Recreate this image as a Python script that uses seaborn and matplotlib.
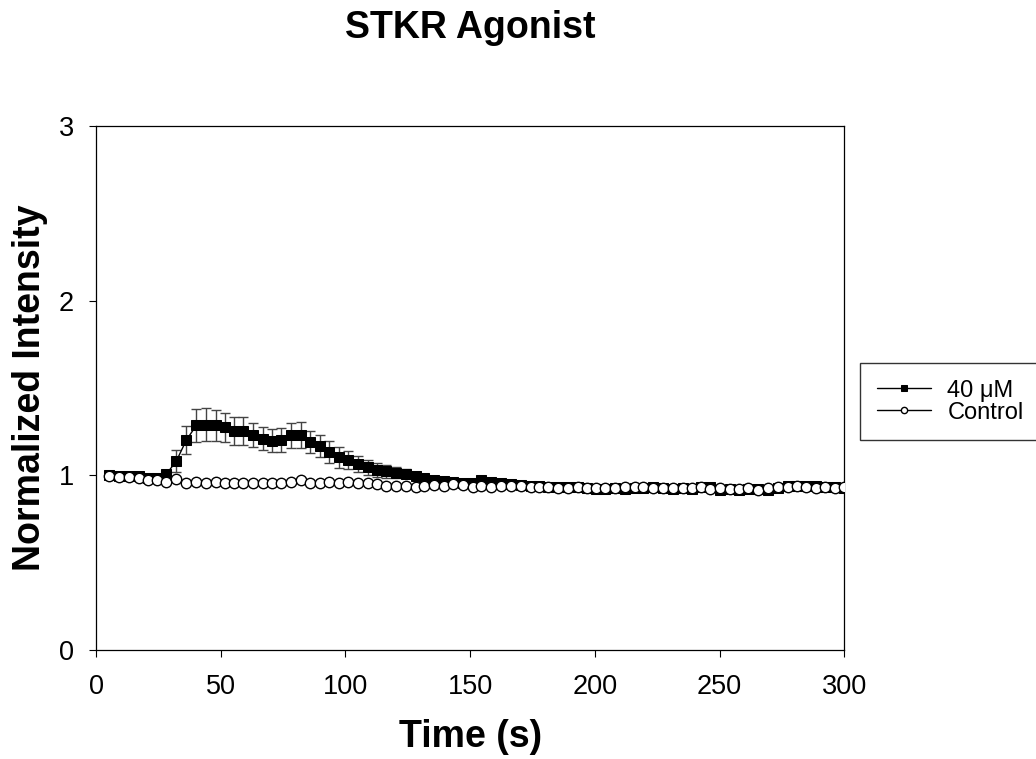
import numpy as np
import pandas as pd
import matplotlib
matplotlib.use('Agg')
import matplotlib.pyplot as plt
import seaborn as sns

# Time points (s)
time_s = [5.1, 9.1, 13.1, 17.1, 20.9, 24.3, 28.2, 32.2, 36.2, 40.2, 44.2, 48.1, 51.7, 55.4,
          59.1, 63.1, 66.8, 70.6, 74.3, 78.3, 82.1, 85.9, 89.8, 93.5, 97.3, 101.2, 104.9,
          108.9, 112.5, 116.3, 120.3, 124.3, 128.3, 131.5, 135.5, 139.5, 143.3, 147.3,
          151.3, 154.3, 158.3, 162.3, 166.3, 170.3, 174.3, 177.7, 181.4, 185.4, 189.4,
          193.4, 196.7, 200.5, 204.1, 208.1, 212.1, 216.1, 219.4, 223.2, 227.2, 231.2,
          235.2, 238.8, 242.5, 246.2, 250.2, 254.2, 257.9, 261.5, 265.5, 269.5, 273.5,
          277.5, 281.1, 284.6, 288.6, 292.2, 296.2, 300.0]

# 40 uM agonist, normalized intensity
agonist = [1.0, 0.995, 0.995, 0.995, 0.985, 0.985, 1.008, 1.082, 1.202, 1.286, 1.29, 1.286,
           1.275, 1.254, 1.254, 1.231, 1.21, 1.199, 1.202, 1.229, 1.233, 1.191, 1.17, 1.134,
           1.105, 1.086, 1.065, 1.048, 1.031, 1.023, 1.016, 1.01, 0.997, 0.983, 0.974, 0.968,
           0.96, 0.957, 0.955, 0.972, 0.964, 0.956, 0.952, 0.945, 0.94, 0.94,
           0.935, 0.935, 0.932, 0.935, 0.93, 0.925, 0.925, 0.928, 0.925, 0.93, 0.928, 0.935,
           0.928, 0.925, 0.928, 0.925, 0.935, 0.932, 0.918, 0.922, 0.918, 0.92, 0.922, 0.915,
           0.93, 0.94, 0.938, 0.942, 0.94, 0.935, 0.935, 0.93]

agonist_err = [0.01, 0.01, 0.01, 0.01, 0.01, 0.01, 0.015, 0.062, 0.081, 0.092, 0.093, 0.088,
               0.081, 0.078, 0.078, 0.067, 0.065, 0.066, 0.067, 0.073, 0.074, 0.062, 0.062,
               0.063, 0.06, 0.051, 0.048, 0.043, 0.04, 0.035, 0.03, 0.025, 0.02, 0.015] + [0.01] * 44

# Control, normalized intensity
control = [0.995, 0.99, 0.993, 0.985, 0.975, 0.975, 0.965, 0.978, 0.955, 0.965, 0.958, 0.96,
           0.958, 0.958, 0.955, 0.958, 0.955, 0.958, 0.955, 0.96, 0.972, 0.955, 0.958, 0.96,
           0.957, 0.96, 0.955, 0.957, 0.95, 0.942, 0.942, 0.942, 0.932, 0.94, 0.945, 0.94,
           0.95, 0.945, 0.932, 0.938, 0.936, 0.94, 0.938, 0.94, 0.932, 0.932, 0.932, 0.928,
           0.928, 0.936, 0.928, 0.93, 0.93, 0.93, 0.935, 0.935, 0.935, 0.93, 0.93, 0.926,
           0.926, 0.93, 0.935, 0.922, 0.926, 0.922, 0.922, 0.926, 0.917, 0.93, 0.935, 0.935,
           0.939, 0.935, 0.93, 0.935, 0.93, 0.935]

df = pd.DataFrame({'time': time_s, 'agonist': agonist, 'err': agonist_err, 'control': control})

sns.set_style('ticks')
plt.rcParams['font.family'] = ['Liberation Sans', 'DejaVu Sans']
plt.rcParams['text.color'] = 'black'
plt.rcParams['axes.labelcolor'] = 'black'
plt.rcParams['xtick.color'] = 'black'
plt.rcParams['ytick.color'] = 'black'

fig = plt.figure(figsize=(10.36, 7.59), dpi=100)
ax = fig.add_axes([0.0927, 0.1432, 0.7222, 0.6912])

# error bars behind the agonist markers
ax.errorbar(df['time'], df['agonist'], yerr=df['err'], fmt='none', ecolor='#444444',
            elinewidth=1.0, capsize=3.5, capthick=1.0, zorder=2)

sns.lineplot(data=df, x='time', y='agonist', ax=ax, color='black', linewidth=1.0,
             marker='s', markersize=6.5, markeredgecolor='black', markerfacecolor='black',
             label='40 \u03bcM', zorder=3)
sns.lineplot(data=df, x='time', y='control', ax=ax, color='black', linewidth=1.0,
             marker='o', markersize=7.5, markeredgecolor='black', markerfacecolor='white',
             markeredgewidth=1.0, label='Control', zorder=4)

ax.set_xlim(0, 300)
ax.set_ylim(0, 3)
ax.set_xticks([0, 50, 100, 150, 200, 250, 300])
ax.set_yticks([0, 1, 2, 3])
ax.tick_params(direction='out', length=5, width=0.8, labelsize=19.5, color='black',
               labelcolor='black')
ax.tick_params(axis='y', pad=11)
ax.tick_params(axis='x', pad=12)
for sp in ax.spines.values():
    sp.set_visible(True)
    sp.set_color('black')
    sp.set_linewidth(0.9)

ax.set_xlabel('Time (s)', fontsize=27, fontweight='bold', color='black')
ax.set_ylabel('Normalized Intensity', fontsize=27, fontweight='bold', color='black')
ax.xaxis.set_label_coords(0.5, -0.165)
ax.xaxis.label.set_va('center')
ax.yaxis.set_label_coords(-0.088, 0.5)
ax.yaxis.label.set_va('center')

fig.text(470 / 1036, 1 - 28 / 759, 'STKR Agonist', fontsize=27, fontweight='bold',
         ha='center', va='center', color='black')

leg = ax.legend(loc='upper left', bbox_to_anchor=(860 / 1036, 1 - 363 / 759),
                bbox_transform=fig.transFigure, fontsize=17, frameon=True, fancybox=False,
                edgecolor='black', markerscale=0.6, handlelength=2.3, handletextpad=0.7,
                borderpad=0.7, labelspacing=0.0, borderaxespad=0)
leg.get_frame().set_linewidth(1.0)
for t in leg.get_texts():
    t.set_color('black')

fig.savefig('out.png', dpi=100)
